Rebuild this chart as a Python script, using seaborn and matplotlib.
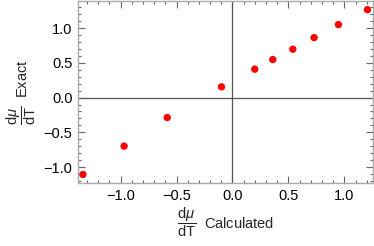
import numpy as np
import pandas as pd
import matplotlib
matplotlib.use('Agg')
import matplotlib.pyplot as plt
import seaborn as sns
from matplotlib.ticker import MultipleLocator

calculated = [-1.336, -0.968, -0.583, -0.098, 0.199, 0.360, 0.539, 0.729, 0.946, 1.205]
exact = [-1.108, -0.699, -0.288, 0.154, 0.409, 0.547, 0.696, 0.863, 1.050, 1.265]

df = pd.DataFrame({'Calculated': calculated, 'Exact': exact})

sns.set_style('ticks')
plt.rcParams['font.sans-serif'] = ['Liberation Sans', 'DejaVu Sans']
plt.rcParams['font.family'] = 'sans-serif'
plt.rcParams['mathtext.fontset'] = 'custom'
plt.rcParams['mathtext.rm'] = 'Liberation Sans'
plt.rcParams['mathtext.it'] = 'Liberation Sans:italic'

fig = plt.figure(figsize=(3.74, 2.46), dpi=100)
ax = fig.add_axes([78 / 374, 63 / 246, 295 / 374, 182 / 246])

ax.axhline(0, color='#555555', lw=0.9, zorder=1)
ax.axvline(0, color='#555555', lw=0.9, zorder=1)
sns.scatterplot(data=df, x='Calculated', y='Exact', ax=ax, color='#ff0000',
                s=28, edgecolor='none', zorder=3)

ax.set_xlim(-1.38, 1.255)
ax.set_ylim(-1.23, 1.39)
ax.xaxis.set_major_locator(MultipleLocator(0.5))
ax.xaxis.set_minor_locator(MultipleLocator(0.1))
ax.yaxis.set_major_locator(MultipleLocator(0.5))
ax.yaxis.set_minor_locator(MultipleLocator(0.1))

ax.tick_params(which='both', direction='in', top=True, right=True, bottom=True, left=True,
               color='#666666', labelcolor='black', labelsize=10.5, width=0.8)
ax.tick_params(which='major', length=5, pad=4)
ax.tick_params(which='minor', length=2.5)
for sp in ax.spines.values():
    sp.set_visible(True)
    sp.set_color('#aaaaaa')
    sp.set_linewidth(1.0)

ax.set_xlabel(r'$\dfrac{\mathrm{d}\mathit{\mu}}{\mathrm{dT}}$  Calculated', fontsize=10.5, labelpad=2)
ax.set_ylabel(r'$\dfrac{\mathrm{d}\mathit{\mu}}{\mathrm{dT}}$  Exact', fontsize=10.5, labelpad=4)

fig.savefig('out.png', dpi=100)
